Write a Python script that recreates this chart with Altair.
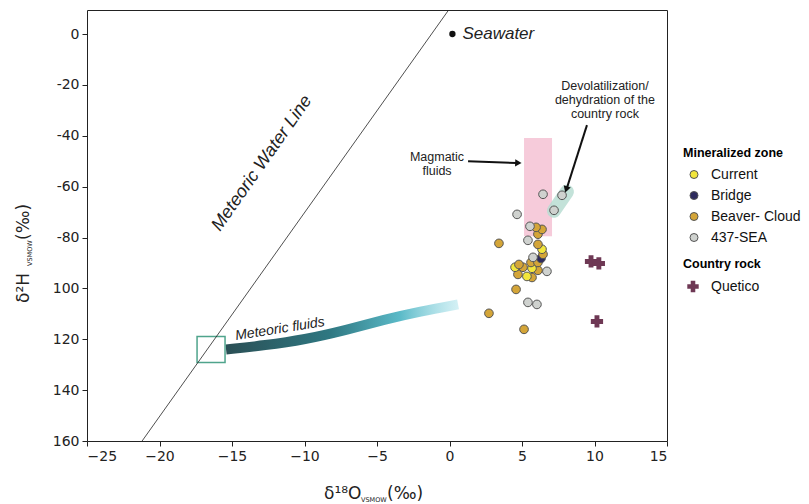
import altair as alt
import pandas as pd

# ---------------- data ----------------
zone_d18o = [6.45, 7.76, 7.21, 4.66, 5.55, 5.41, 5.76, 6.72, 5.41, 6.03,
             5.97, 6.38, 6.10, 3.41, 6.10, 6.45, 5.62, 6.10, 4.79, 5.07,
             6.10, 4.72, 5.69, 4.59, 2.72, 5.14,
             6.38, 4.52, 5.69, 5.34,
             6.31]
zone_d2h = [-63.0, -63.4, -69.3, -70.9, -75.6, -81.1, -87.8, -93.3, -105.5, -106.3,
            -76.0, -76.8, -78.7, -82.3, -82.7, -86.6, -89.8, -89.8, -90.6, -91.7,
            -92.9, -94.5, -95.7, -100.4, -109.8, -116.1,
            -84.6, -91.7, -92.1, -95.3,
            -88.2]
zone_name = (["437-SEA"] * 10 + ["Beaver- Cloud"] * 16 + ["Current"] * 4 + ["Bridge"])

zone_domain = ["Current", "Bridge", "Beaver- Cloud", "437-SEA"]
zone_colors = ["#f2e63c", "#2e2b5e", "#d4a538", "#cfd2cf"]

rock_d18o = [9.76, 10.30, 10.17]
rock_d2h = [-89.4, -90.2, -113.0]
rock_name = ["Quetico", "Quetico", "Quetico"]

mwl_d18o = [-21.2, -0.06]
mwl_d2h = [-160.0, 9.45]

meteoric_d18o = [-15.41, -12.72, -9.97, -7.21, -4.45, -2.03, 0.59]
meteoric_d2h = [-124.0, -122.4, -120.1, -116.5, -112.2, -109.1, -106.3]

square_d18o = [-17.41, -15.48]
square_d2h = [-118.9, -129.1]

magmatic_d18o = [5.14, 7.07]
magmatic_d2h = [-40.9, -79.5]

devol_d18o = [7.2, 8.1]
devol_d2h = [-69.5, -62.0]

seawater_d18o = [0.2]
seawater_d2h = [0.0]

x_ticks = [-25, -20, -15, -10, -5, 0, 5, 10, 15]
y_ticks = [0, -20, -40, -60, -80, -100, -120, -140, -160]

# ---------------- frames ----------------
zones = pd.DataFrame({"x": zone_d18o, "y": zone_d2h, "zone": zone_name})
rocks = pd.DataFrame({"x": rock_d18o, "y": rock_d2h, "rock": rock_name})
mwl = pd.DataFrame({"x": mwl_d18o, "y": mwl_d2h})
meteoric = pd.DataFrame({"x": meteoric_d18o, "y": meteoric_d2h})
square = pd.DataFrame({"x": [square_d18o[0]], "x2": [square_d18o[1]],
                       "y": [square_d2h[0]], "y2": [square_d2h[1]]})
magmatic = pd.DataFrame({"x": [magmatic_d18o[0]], "x2": [magmatic_d18o[1]],
                         "y": [magmatic_d2h[0]], "y2": [magmatic_d2h[1]]})
devol = pd.DataFrame({"x": devol_d18o, "y": devol_d2h})
seawater = pd.DataFrame({"x": seawater_d18o, "y": seawater_d2h})

XS = alt.Scale(domain=[-25, 15], nice=False, zero=False)
YS = alt.Scale(domain=[-160, 9.45], nice=False, zero=False)
X_AX = alt.Axis(title="", values=x_ticks, grid=False, domain=False,
                labelExpr="datum.value < 0 ? '\u2212' + (-datum.value) : '' + datum.value")
Y_AX = alt.Axis(title="", values=y_ticks, grid=False, domain=False,
                labelExpr="datum.value <= -100 ? '' + (-datum.value) : '' + datum.value")
X = alt.X("x:Q", scale=XS, axis=X_AX)
Y = alt.Y("y:Q", scale=YS, axis=Y_AX)

magmatic_layer = alt.Chart(magmatic).mark_rect(color="#f5c2d4", opacity=0.85).encode(
    x=X, x2="x2:Q", y=Y, y2="y2:Q")

devol_layer = alt.Chart(devol).mark_line(color="#b9ddd2", strokeWidth=14, strokeCap="round",
                                          opacity=0.85).encode(x=X, y=Y)

band = alt.Chart(meteoric).mark_line(
    strokeWidth=10, strokeCap="butt", interpolate="basis",
    stroke=alt.LinearGradient(
        gradient="linear", x1=0, x2=1, y1=0, y2=0,
        stops=[alt.GradientStop(color="#2a4f55", offset=0),
               alt.GradientStop(color="#2f7882", offset=0.45),
               alt.GradientStop(color="#5bbac8", offset=0.75),
               alt.GradientStop(color="rgba(175,228,236,0.55)", offset=1)])
).encode(x=X, y=Y)

square_layer = alt.Chart(square).mark_rect(fillOpacity=0, stroke="#4fa48c", strokeWidth=1.5).encode(
    x=X, x2="x2:Q", y=Y, y2="y2:Q")

mwl_layer = alt.Chart(mwl).mark_line(color="#222", strokeWidth=0.8).encode(x=X, y=Y)

zone_layer = alt.Chart(zones).mark_point(filled=True, shape="circle", size=75, opacity=1,
                                         stroke="#555", strokeWidth=1).encode(
    x=X, y=Y,
    color=alt.Color("zone:N", scale=alt.Scale(domain=zone_domain, range=zone_colors),
                    legend=alt.Legend(title="Mineralized zone", orient="none", legendX=596, legendY=137,
                                      symbolType="circle", symbolSize=64, symbolStrokeColor="#555",
                                      symbolStrokeWidth=1, symbolOffset=4, labelOffset=10,
                                      rowPadding=7, titlePadding=8, padding=0)),
    order=alt.Order("y:Q")
)

rock_layer = alt.Chart(rocks).mark_point(filled=True, color="#6e3854", size=150, opacity=1).encode(
    x=X, y=Y,
    shape=alt.Shape("rock:N", scale=alt.Scale(domain=["Quetico"], range=["cross"]),
                    legend=alt.Legend(title="Country rock", orient="none", legendX=596, legendY=248,
                                      symbolSize=130, symbolFillColor="#5a5a5a", symbolStrokeWidth=0,
                                      symbolOffset=3, labelOffset=11, titlePadding=9, padding=0))
)

sea_layer = alt.Chart(seawater).mark_point(filled=True, color="#111", size=40, opacity=1).encode(x=X, y=Y)
sea_text = alt.Chart(seawater).mark_text(text="Seawater", font="Liberation Sans", fontStyle="italic",
                                         fontSize=17, align="left", baseline="middle", dx=10,
                                         color="#222").encode(x=X, y=Y)

notes = pd.DataFrame({
    "x": [-12.93, -11.69, -0.86, 10.72],
    "y": [-50.8, -116.0, -48.4, -20.5],
    "label": ["Meteoric Water Line", "Meteoric fluids", "Magmatic\nfluids",
              "Devolatilization/\ndehydration of the\ncountry rock"],
})
mwl_text = alt.Chart(notes.iloc[[0]]).mark_text(font="Liberation Sans", fontStyle="italic", fontSize=18,
                                                angle=305, align="center", baseline="middle",
                                                color="#222").encode(x=X, y=Y, text="label:N")
fluid_text = alt.Chart(notes.iloc[[1]]).mark_text(font="Liberation Sans", fontStyle="italic", fontSize=14,
                                                  angle=351, align="center", baseline="middle",
                                                  color="#222").encode(x=X, y=Y, text="label:N")
other_text = alt.Chart(notes.iloc[[2, 3]]).mark_text(font="Liberation Sans", fontSize=12.5, align="center",
                                                     baseline="middle", lineBreak="\n", lineHeight=14,
                                                     color="#222").encode(x=X, y=Y, text="label:N")

arrows = pd.DataFrame({
    "x": [1.28, 9.48], "y": [-50.0, -35.8],
    "x2": [4.6, 8.1], "y2": [-50.7, -60.5],
    "hx": [4.75, 8.05], "hy": [-50.7, -61.1], "ang": [92, 198],
})
shafts = alt.Chart(arrows).mark_rule(color="#111", strokeWidth=2).encode(
    x=X, y=Y, x2="x2:Q", y2="y2:Q")
heads = alt.Chart(arrows).mark_point(shape="triangle-up", filled=True, color="#111", size=55,
                                     opacity=1).encode(
    x=alt.X("hx:Q", scale=XS, axis=X_AX), y=alt.Y("hy:Q", scale=YS, axis=Y_AX),
    angle=alt.Angle("ang:Q", scale=None))

# axis titles with small subscript, placed in the margins
titles = pd.DataFrame({
    "t": ["\u03b4\u00b2H", "VSMOW", "(\u2030)", "\u03b4\u00b9\u2078O", "VSMOW", "(\u2030)"],
    "px": [-58, -55, -58, 237, 274, 300],
    "py": [293, 256, 230, 489, 492, 489],
    "fs": [17, 6.5, 17, 17, 6.5, 17],
    "ang": [270, 270, 270, 0, 0, 0],
})
title_layer = alt.Chart(titles).mark_text(font="DejaVu Sans", align="left", baseline="alphabetic",
                                          color="#222").encode(
    x=alt.X("px:Q", scale=None), y=alt.Y("py:Q", scale=None), text="t:N",
    size=alt.Size("fs:Q", scale=None), angle=alt.Angle("ang:Q", scale=None))

chart = alt.layer(
    magmatic_layer, devol_layer, band, square_layer, mwl_layer,
    zone_layer, rock_layer, sea_layer, sea_text,
    mwl_text, fluid_text, other_text, shafts, heads, title_layer
).resolve_scale(color="independent", shape="independent").properties(
    width=580, height=431,
    autosize=alt.AutoSizeParams(type="none"),
    padding={"left": 87, "top": 10, "right": 142, "bottom": 63},
    background="white",
).configure_view(stroke="#222", strokeWidth=1).configure_axis(
    labelFont="DejaVu Sans", labelFontSize=14, labelColor="#222",
    tickColor="#222", tickSize=5, tickWidth=1, labelPadding=3,
).configure_legend(
    titleFont="Liberation Sans", titleFontSize=12.5, titleFontWeight="bold", titleColor="#000",
    labelFont="Liberation Sans", labelFontSize=14, labelColor="#111",
)

chart.save("out.html", embed_options={"renderer": "svg", "actions": False})
